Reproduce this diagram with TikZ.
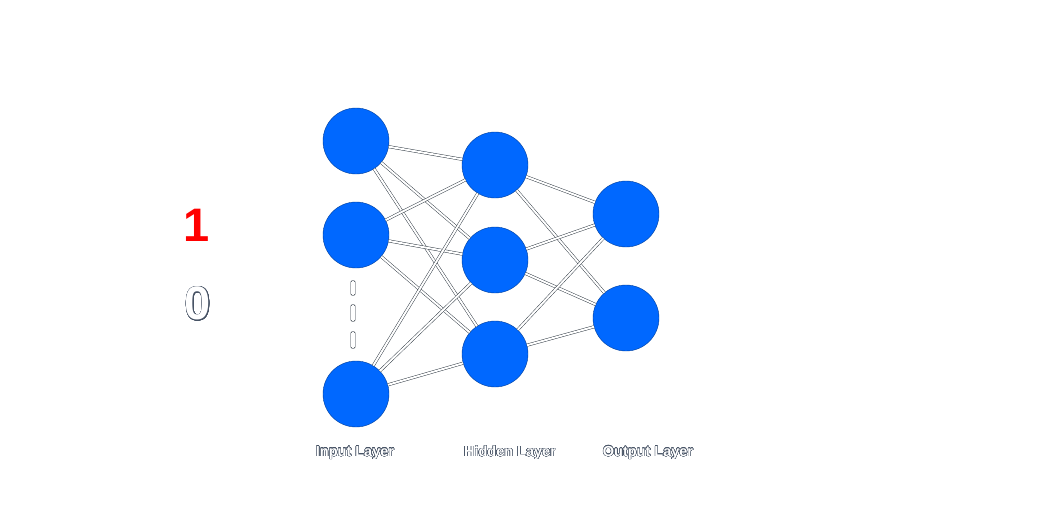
\documentclass[tikz,border=0pt]{standalone}
\usepackage{fontspec}
\setmainfont{Liberation Sans}
\usepackage{contour}
\contourlength{0.4pt}
\contournumber{24}
\definecolor{nodeblue}{RGB}{0,104,255}
\definecolor{edgeline}{RGB}{40,50,60}
\definecolor{labelline}{RGB}{70,82,100}
\begin{document}
\begin{tikzpicture}[x=1pt,y=-1pt,
  neuron/.style={circle,fill=nodeblue,draw=nodeblue!60!black,line width=0.4pt,minimum size=66pt,inner sep=0pt},
  link/.style={draw=edgeline,line width=0.45pt,double=white,double distance=2pt},
  dashbox/.style={draw=edgeline,fill=white,line width=0.45pt,rounded corners=1.5pt,minimum width=4.5pt,minimum height=16pt,inner sep=0pt},
  lbl/.style={font=\bfseries\fontsize{14.5}{16}\selectfont,inner sep=0pt},
  digit/.style={font=\bfseries\fontsize{47}{50}\selectfont,inner sep=0pt}]
\useasboundingbox (0,0) rectangle (1050,520);
\node[neuron] (i1) at (356,141) {};
\node[neuron] (i2) at (356,235) {};
\node[neuron] (i3) at (356,394) {};
\node[neuron] (h1) at (495,165) {};
\node[neuron] (h2) at (495,260) {};
\node[neuron] (h3) at (495,354) {};
\node[neuron] (o1) at (626,214) {};
\node[neuron] (o2) at (626,318) {};
\foreach \a in {i1,i2,i3}{\foreach \b in {h1,h2,h3}{\draw[link] (\a) -- (\b);}}
\foreach \a in {h1,h2,h3}{\foreach \b in {o1,o2}{\draw[link] (\a) -- (\b);}}
\node[dashbox,minimum height=15pt] (dash1) at (353,288) {};
\node[dashbox,minimum height=17pt] (dash2) at (353,313) {};
\node[dashbox,minimum height=17pt] (dash3) at (353,340) {};
\node[lbl] (li) at (355,453) {\contour{labelline}{\textcolor{white}{Input Layer}}};
\node[lbl] (lh) at (510,453) {\contour{labelline}{\textcolor{white}{Hidden Layer}}};
\node[lbl] (lo) at (648,453) {\contour{labelline}{\textcolor{white}{Output Layer}}};
\node[digit,text=red] (one) at (197,225) {1};
\node[digit] (zero) at (198,304) {\contour{labelline}{\textcolor{white}{0}}};
\end{tikzpicture}
\end{document}
